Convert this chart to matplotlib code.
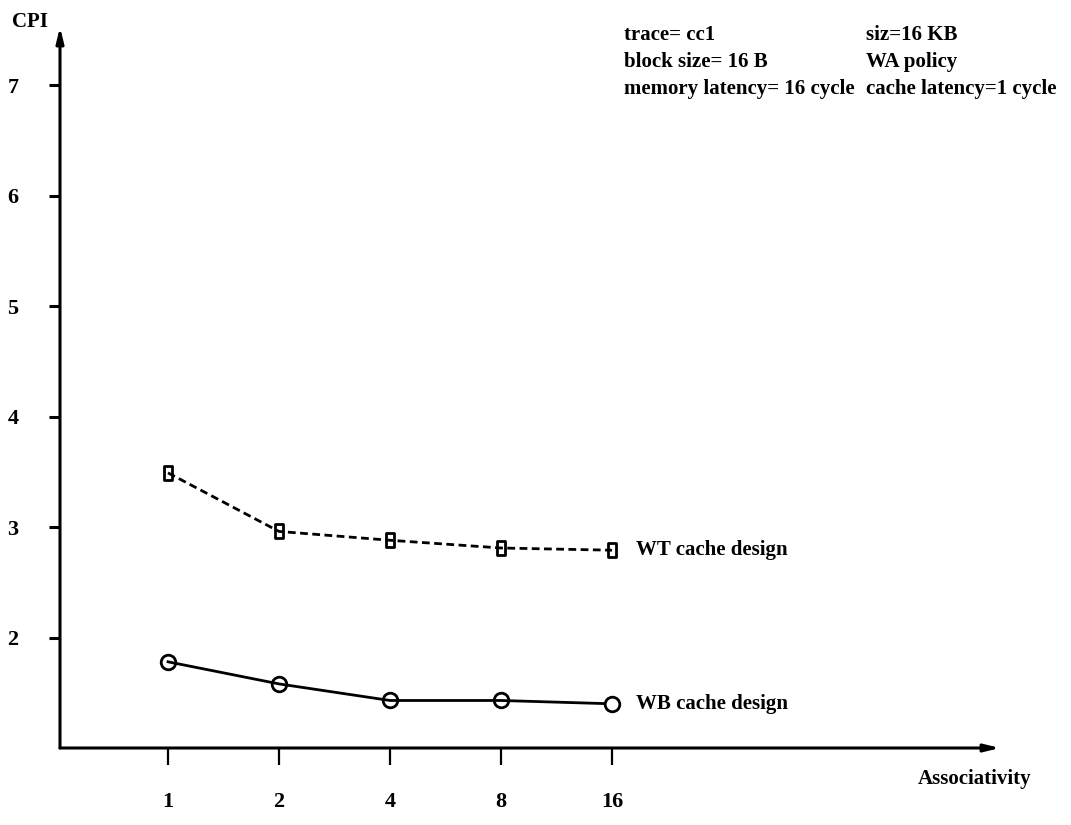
import matplotlib
matplotlib.use("Agg")
import matplotlib.pyplot as plt
from matplotlib.path import Path
import numpy as np

# Associativity levels and measured CPI for each cache design
assoc = ["1", "2", "4", "8", "16"]
wt_cpi = [3.49, 2.96, 2.88, 2.81, 2.79]
wb_cpi = [1.78, 1.58, 1.43, 1.43, 1.40]
y_ticks = [2, 3, 4, 5, 6, 7]

params_left = ["trace= cc1", "block size= 16 B", "memory latency= 16 cycle"]
params_right = ["siz=16 KB", "WA policy", "cache latency=1 cycle"]

plt.rcParams["font.family"] = ["Liberation Serif", "DejaVu Serif"]
plt.rcParams["font.weight"] = "bold"

W, H = 1071, 825
fig = plt.figure(figsize=(W / 100, H / 100), dpi=100)
fig.patch.set_facecolor("white")

# axes box in pixel terms: origin (60, 748), arrow tips at x=1000 and y=27
ax = fig.add_axes([60 / W, (H - 748) / H, (1000 - 60) / W, (748 - 27) / H])
ax.set_xlim(-0.973, 7.495)
ax.set_ylim(1, 7.525)
for s in ax.spines.values():
    s.set_visible(False)

# axis lines with arrow heads
arrow = dict(arrowstyle="-|>,head_length=0.9,head_width=0.22", lw=2.2,
             color="black", shrinkA=0, shrinkB=0)
ax.annotate("", xy=(1, 0), xytext=(0, 0), xycoords="axes fraction",
            textcoords="axes fraction", arrowprops=arrow,
            annotation_clip=False)
ax.annotate("", xy=(0, 1), xytext=(0, 0), xycoords="axes fraction",
            textcoords="axes fraction", arrowprops=arrow,
            annotation_clip=False)

x = np.arange(len(assoc))
ax.set_xticks(x)
ax.set_xticklabels(assoc, fontweight="bold")
ax.set_yticks(y_ticks)
ax.set_yticklabels([str(v) for v in y_ticks], fontweight="bold")
ax.tick_params(axis="y", direction="out", length=8, width=2.2, pad=22,
               labelsize=16)
ax.tick_params(axis="x", direction="out", length=12, width=1.6, pad=20,
               labelsize=16)

# rectangle marker with the line running through it
rect = Path([(-0.3, -0.5), (0.3, -0.5), (0.3, 0.5), (-0.3, 0.5),
             (-0.3, -0.5)],
            [Path.MOVETO, Path.LINETO, Path.LINETO, Path.LINETO,
             Path.CLOSEPOLY])

ax.plot(x, wt_cpi, color="black", lw=2.0, ls=(0, (2.8, 1.6)),
        marker=rect, ms=10, mfc="none", mec="black", mew=2.0,
        clip_on=False, zorder=3)

ax.plot(x, wb_cpi, color="black", lw=2.0, clip_on=False, zorder=2)
ax.plot(x[:-1], wb_cpi[:-1], ls="none", marker="o", ms=10.5, mfc="none",
        mec="black", mew=2.0, clip_on=False, zorder=3)
ax.plot(x[-1:], wb_cpi[-1:], ls="none", marker="o", ms=10.5, mfc="white",
        mec="black", mew=2.0, clip_on=False, zorder=3)

# series labels at the line ends
ax.annotate("WT cache design", xy=(x[-1], wt_cpi[-1]), xytext=(17, 0),
            textcoords="offset points", va="center", ha="left", fontsize=15,
            fontweight="bold")
ax.annotate("WB cache design", xy=(x[-1], wb_cpi[-1]), xytext=(17, 0),
            textcoords="offset points", va="center", ha="left", fontsize=15,
            fontweight="bold")


def ptext(px, py, s, **kw):
    fig.text(px / W, 1 - py / H, s, fontweight="bold", **kw)


ptext(12, 22, "CPI", fontsize=15, va="center", ha="left")
ptext(918, 779, "Associativity", fontsize=15, va="center", ha="left")

for i, (a, b) in enumerate(zip(params_left, params_right)):
    py = 35 + 27 * i
    ptext(624, py, a, fontsize=15, va="center", ha="left")
    ptext(866, py, b, fontsize=15, va="center", ha="left")

fig.savefig("out.png", dpi=100, facecolor="white")
